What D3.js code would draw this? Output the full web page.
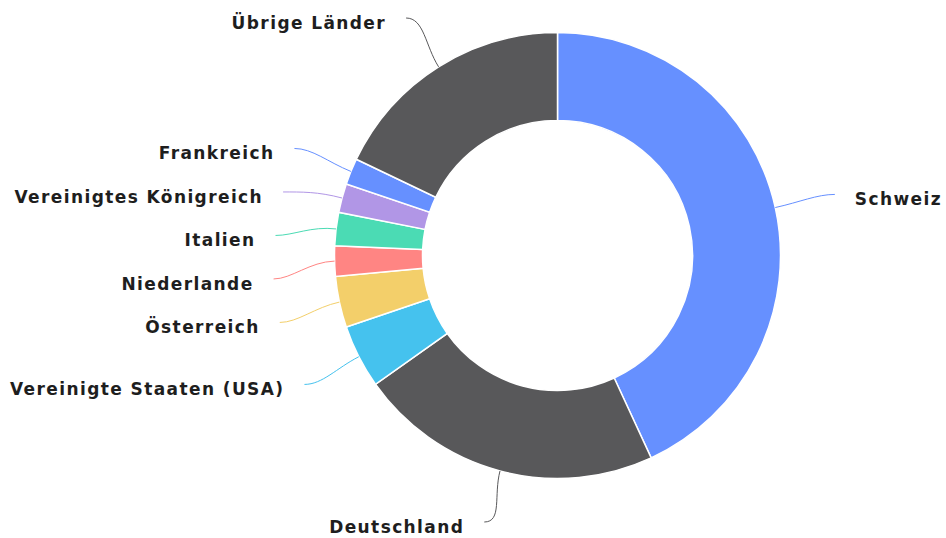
<!DOCTYPE html>
<html>
<head>
<meta charset="utf-8">
<script src="https://cdn.jsdelivr.net/npm/d3@7"></script>
<style>
  body { margin: 0; background: #fff; }
  text { font-family: "DejaVu Sans", sans-serif; font-weight: bold; font-size: 17px; letter-spacing: 1.4px; fill: #1e1e1e; }
</style>
</head>
<body>
<div id="app"></div>
<script>
const countries = ["Schweiz", "Deutschland", "Vereinigte Staaten (USA)", "Österreich", "Niederlande",
  "Italien", "Vereinigtes Königreich", "Frankreich", "Übrige Länder"];
const shares = [43.1, 22.1, 4.6, 3.7, 2.2, 2.4, 2.1, 1.9, 17.9];
const colors = ["#6690ff", "#58585a", "#45c2ee", "#f3cf6a", "#ff8583", "#4bdbb4", "#b196e6", "#6690ff", "#58585a"];

const full = { width: 946, height: 538 };
const center = { x: 557.5, y: 255.5 };
const radius = { outer: 223, inner: 135, label: 284 };
const gap = 43.5;

const svg = d3.select("#app")
  .append("svg")
  .attr("width", full.width)
  .attr("height", full.height);

const g = svg.append("g").attr("transform", `translate(${center.x},${center.y})`);

const pie = d3.pie().sort(null).value(d => d.value);
const arcs = pie(countries.map((name, i) => ({ name, value: shares[i], color: colors[i] })));
const arc = d3.arc().innerRadius(radius.inner).outerRadius(radius.outer);

g.selectAll(".slice")
  .data(arcs)
  .join("path")
  .attr("class", "slice")
  .attr("d", arc)
  .attr("fill", d => d.data.color)
  .attr("stroke", "#fff")
  .attr("stroke-width", 1.5);

// label positions: on a bigger circle, kept inside the picture, pushed apart per side
const mid = d => (d.startAngle + d.endAngle) / 2;
const labels = arcs.map(d => {
  const a = mid(d);
  return {
    d, a,
    side: Math.sin(a) < 0 ? -1 : 1,
    x: radius.label * Math.sin(a),
    y: Math.max(18 - center.y, Math.min(522 - center.y, -radius.label * Math.cos(a)))
  };
});
[-1, 1].forEach(side => {
  const group = labels.filter(l => l.side === side).sort((a, b) => a.y - b.y);
  for (let i = 1; i < group.length; i++) {
    group[i].y = Math.max(group[i].y, group[i - 1].y + gap);
  }
});

const linePath = l => {
  const sx = Math.sin(l.a), cy = -Math.cos(l.a);
  const p0 = [radius.outer * sx, radius.outer * cy];
  const c1 = [p0[0] + sx * 25, p0[1] + cy * 25];
  const c2 = [l.x - l.side * 18, l.y];
  return `M${p0[0]},${p0[1]}C${c1[0]},${c1[1]} ${c2[0]},${c2[1]} ${l.x},${l.y}`;
};

g.selectAll(".leader")
  .data(labels)
  .join("path")
  .attr("class", "leader")
  .attr("d", linePath)
  .attr("fill", "none")
  .attr("stroke", l => l.d.data.color)
  .attr("stroke-width", 1);

g.selectAll(".label")
  .data(labels)
  .join("text")
  .attr("class", "label")
  .attr("x", l => l.x + l.side * 20)
  .attr("y", l => l.y + 5)
  .attr("dominant-baseline", "central")
  .attr("text-anchor", l => l.side < 0 ? "end" : "start")
  .text(l => l.d.data.name);
</script>
</body>
</html>
